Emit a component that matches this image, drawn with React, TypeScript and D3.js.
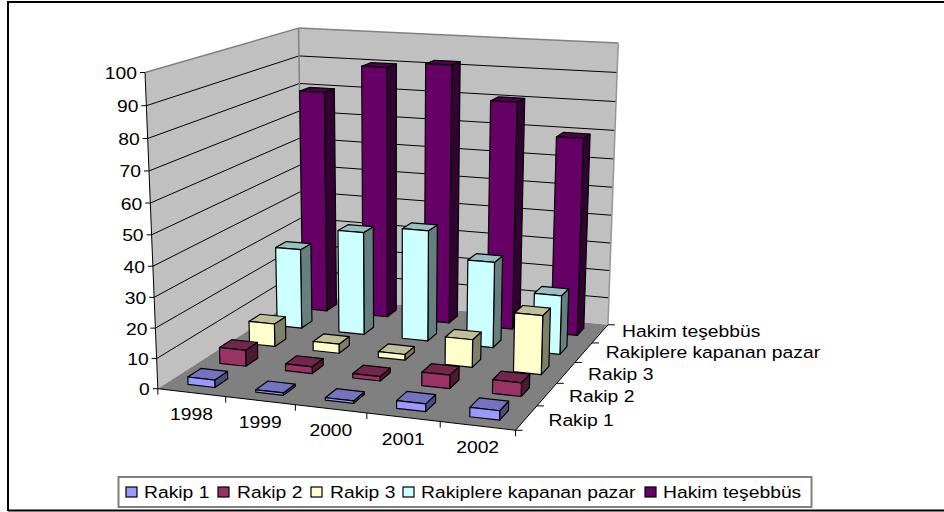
import React from "react";
import * as d3 from "d3";

const years = ["1998", "1999", "2000", "2001", "2002"];
const seriesNames = ["Rakip 1", "Rakip 2", "Rakip 3", "Rakiplere kapanan pazar", "Hakim teşebbüs"];
const rakip1 = [2.5, 0.8, 0.8, 2.5, 3];
const rakip2 = [5.5, 2.3, 1.5, 4.5, 4.5];
const rakip3 = [8, 3.2, 2, 9.5, 20];
const rakiplere = [28.5, 36.5, 39, 30, 20.5];
const hakim = [80, 90, 92, 80.5, 69.5];
const seriesValues = [rakip1, rakip2, rakip3, rakiplere, hakim];
const seriesColors = ["#9999FF", "#993366", "#FFFFCC", "#CCFFFF", "#660066"];
const yTicks = [0, 10, 20, 30, 40, 50, 60, 70, 80, 90, 100];

// camera calibration: unit-box corner -> pixel
const calib: number[][] = [
  [0, 0, 0, 158.3, 387.7],
  [1, 0, 0, 515.7, 431],
  [1, 0, 1, 608, 324],
  [0, 0, 1, 302.3, 296.5],
  [0, 1, 0, 145, 72.7],
  [0, 1, 1, 299, 27.7],
  [1, 1, 1, 618, 43.3],
  [0, 0.5, 0, 151, 235],
];

function solveCamera(rows: number[][]) {
  const A: number[][] = [];
  const b: number[] = [];
  rows.forEach(([x, y, z, u, v]) => {
    A.push([x, y, z, 1, 0, 0, 0, 0, -u * x, -u * y, -u * z]); b.push(u);
    A.push([0, 0, 0, 0, x, y, z, 1, -v * x, -v * y, -v * z]); b.push(v);
  });
  const n = 11;
  const M = d3.range(n).map((i) => [
    ...d3.range(n).map((j) => d3.sum(A, (r) => r[i] * r[j])),
    d3.sum(A, (r, k) => r[i] * b[k]),
  ]);
  for (let c = 0; c < n; c++) {
    let p = c;
    for (let r = c + 1; r < n; r++) if (Math.abs(M[r][c]) > Math.abs(M[p][c])) p = r;
    [M[c], M[p]] = [M[p], M[c]];
    for (let r = 0; r < n; r++) {
      if (r === c) continue;
      const f = M[r][c] / M[c][c];
      for (let k = c; k <= n; k++) M[r][k] -= f * M[c][k];
    }
  }
  return M.map((r, i) => r[n] / r[i]);
}
const cam = solveCamera(calib);
const project = (x: number, y: number, z: number): [number, number] => {
  const w = cam[8] * x + cam[9] * y + cam[10] * z + 1;
  return [
    (cam[0] * x + cam[1] * y + cam[2] * z + cam[3]) / w,
    (cam[4] * x + cam[5] * y + cam[6] * z + cam[7]) / w,
  ];
};

const xBand = d3.scaleBand<string>().domain(years).range([0, 1]).paddingInner(0.6).paddingOuter(0.3);
const zBand = d3.scaleBand<string>().domain(seriesNames).range([0, 1]).paddingInner(0.6).paddingOuter(0.3);
const yScale = d3.scaleLinear().domain([0, 100]).range([0, 1]);
const poly = (pts: [number, number][]) => pts.map((p) => p.map((n) => n.toFixed(2)).join(",")).join(" ");
const line = (a: [number, number], b: [number, number], stroke: string, w = 1, key?: string) => (
  <line key={key} x1={a[0]} y1={a[1]} x2={b[0]} y2={b[1]} stroke={stroke} strokeWidth={w} />
);
const FONT = "'Liberation Sans', Arial, sans-serif";
const Label = ({ x, y, anchor = "start", size = 16.5, sx = 1.17, children }: any) => (
  <text transform={`translate(${x},${y + 1}) scale(${sx},1)`} fontFamily={FONT} fontSize={size} textAnchor={anchor} dominantBaseline="central" fill="#000">
    {children}
  </text>
);

const legendSwatchX = [126, 218, 311, 403, 645];
const legendTextX = [144, 237, 330, 421, 663];
const depthLabelNudge = [2, 1, 1, -1, -3];

function Bar({ xi, si }: { xi: number; si: number }) {
  const value = seriesValues[si][xi];
  const color = d3.rgb(seriesColors[si]);
  const x0 = xBand(years[xi])!;
  const x1 = x0 + xBand.bandwidth();
  const z0 = zBand(seriesNames[si])!;
  const z1 = z0 + zBand.bandwidth();
  const y = yScale(value);
  const side = d3.rgb(color.r / 2, color.g / 2, color.b / 2).toString();
  const top = d3.rgb(color.r * 0.75, color.g * 0.75, color.b * 0.75).toString();
  const s = { stroke: "#000", strokeWidth: 1.2, strokeLinejoin: "round" as const };
  return (
    <g>
      <polygon {...s} fill={side} points={poly([project(x1, 0, z0), project(x1, 0, z1), project(x1, y, z1), project(x1, y, z0)])} />
      <polygon {...s} fill={top} points={poly([project(x0, y, z0), project(x1, y, z0), project(x1, y, z1), project(x0, y, z1)])} />
      <polygon {...s} fill={seriesColors[si]} points={poly([project(x0, 0, z0), project(x1, 0, z0), project(x1, y, z0), project(x0, y, z0)])} />
    </g>
  );
}

export default function App() {
  return (
    <svg width={944} height={512} style={{ position: "absolute", left: 0, top: 0, background: "#fff" }}>
      {/* outer frame */}
      <path d="M8,511 V2 H944 M8,510.5 H944" fill="none" stroke="#000" strokeWidth={2} />

      {/* walls and floor */}
      <polygon fill="#C0C0C0" points={poly([project(0, 0, 0), project(0, 1, 0), project(0, 1, 1), project(0, 0, 1)])} />
      <polygon fill="#C0C0C0" points={poly([project(0, 0, 1), project(0, 1, 1), project(1, 1, 1), project(1, 0, 1)])} />
      <polygon fill="#808080" points={poly([project(0, 0, 0), project(1, 0, 0), project(1, 0, 1), project(0, 0, 1)])} />

      {/* gridlines */}
      {yTicks.slice(1, -1).map((t) => (
        <g key={t}>
          {line(project(0, yScale(t), 0), project(0, yScale(t), 1), "#000", 1)}
          {line(project(0, yScale(t), 1), project(1, yScale(t), 1), "#000", 1)}
        </g>
      ))}
      {line(project(0, 1, 0), project(0, 1, 1), "#808080", 1.5)}
      {line(project(0, 1, 1), project(1, 1, 1), "#808080", 1.5)}
      {line(project(0, 0, 1), project(0, 1, 1), "#808080", 1.5)}
      {line(project(1, 0, 1), project(1, 1, 1), "#969696", 1.5)}

      {/* axes */}
      {line(project(0, 0, 0), project(0, 1, 0), "#000", 1)}
      {line(project(0, 0, 0), project(1, 0, 0), "#000", 1)}
      {line(project(1, 0, 0), project(1, 0, 1), "#000", 1)}
      {yTicks.map((t) => {
        const p = project(0, yScale(t), 0);
        return (
          <g key={t}>
            {line([p[0] - 5, p[1]], p, "#000", 1)}
            <Label x={p[0] - 8} y={p[1]} anchor="end">{t}</Label>
          </g>
        );
      })}
      {d3.range(0, 6).map((i) => {
        const p = project(i / 5, 0, 0);
        return <g key={i}>{line(p, [p[0], p[1] + 6], "#000", 1)}</g>;
      })}
      {d3.range(0, 6).map((i) => {
        const p = project(1, 0, i / 5);
        return <g key={i}>{line(p, [p[0] + 7, p[1]], "#000", 1)}</g>;
      })}
      {years.map((yr) => {
        const p = project(xBand(yr)! + xBand.bandwidth() / 2, 0, 0);
        return <Label key={yr} x={p[0]} y={p[1] + 21} anchor="middle">{yr}</Label>;
      })}
      {seriesNames.map((nm, i) => {
        const p = project(1, 0, zBand(nm)! + zBand.bandwidth() / 2);
        return <Label key={nm} x={p[0] + 22} y={p[1] + depthLabelNudge[i]}>{nm}</Label>;
      })}

      {/* bars back to front */}
      {d3.range(4, -1, -1).map((si) => (
        <g key={si}>{years.map((_, xi) => <Bar key={xi} xi={xi} si={si} />)}</g>
      ))}

      {/* legend */}
      <rect x={118.5} y={477} width={693} height={30} fill="#fff" stroke="#808080" strokeWidth={2} />
      {seriesNames.map((nm, i) => (
        <g key={nm}>
          <rect x={legendSwatchX[i]} y={487} width={11} height={10} fill={seriesColors[i]} stroke="#000" strokeWidth={1.2} />
          <Label x={legendTextX[i]} y={491}>{nm}</Label>
        </g>
      ))}
    </svg>
  );
}
